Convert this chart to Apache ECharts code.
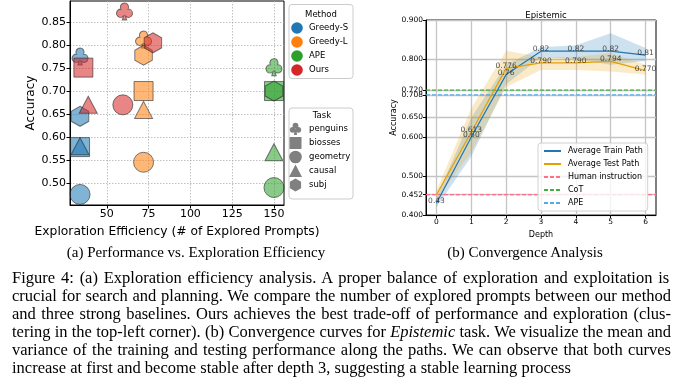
<!DOCTYPE html>
<html><head><meta charset="utf-8">
<script src="https://cdn.jsdelivr.net/npm/echarts@6/dist/echarts.min.js"></script>
<style>
html,body{margin:0;padding:0;background:#fff;}
#wrap{position:relative;width:686px;height:386px;overflow:hidden;background:#fff;}
#chart{position:absolute;left:0;top:0;width:686px;height:386px;}
.cap{position:absolute;font-family:"Liberation Serif","Times New Roman",serif;font-size:15px;color:#000;white-space:nowrap;line-height:18px;height:18px;}
.cap span{display:inline-block;white-space:nowrap;}
.cap.main{font-size:16.5px;}
</style></head><body>
<div id="wrap"><div id="chart"></div><div id="caps"></div></div>
<script>
// ---------- Data: (a) Performance vs. Exploration Efficiency ----------
const methods = ['Greedy-S', 'Greedy-L', 'APE', 'Ours'];
const tasks = ['penguins', 'biosses', 'geometry', 'causal', 'subj'];
const effGreedyS = [34, 34, 34, 34, 34];
const accGreedyS = [0.775, 0.578, 0.475, 0.58, 0.645];
const effGreedyL = [72, 72, 72, 72, 72];
const accGreedyL = [0.812, 0.70, 0.545, 0.659, 0.778];
const effAPE = [150, 150, 150, 150, 150];
const accAPE = [0.752, 0.70, 0.49, 0.567, 0.70];
const effOurs = [60.6, 36, 59.6, 38.9, 77.6];
const accOurs = [0.873, 0.751, 0.67, 0.67, 0.805];
const xTicksA = [50, 75, 100, 125, 150];
const yTicksA = [0.50, 0.55, 0.60, 0.65, 0.70, 0.75, 0.80, 0.85];

// ---------- Data: (b) Convergence Analysis (Epistemic) ----------
const depths = [0, 1, 2, 3, 4, 5, 6];
const trainMean = [0.43, 0.60, 0.76, 0.82, 0.82, 0.82, 0.81];
const trainLow  = [0.42, 0.55, 0.735, 0.805, 0.80, 0.785, 0.795];
const trainHigh = [0.445, 0.65, 0.785, 0.83, 0.835, 0.866, 0.828];
const testMean = [0.452, 0.613, 0.776, 0.790, 0.790, 0.794, 0.770];
const testLow  = [0.44, 0.56, 0.728, 0.772, 0.772, 0.768, 0.76];
const testHigh = [0.462, 0.674, 0.821, 0.805, 0.805, 0.815, 0.785];
const humanAcc = 0.452;
const cotAcc = 0.72;
const apeAcc = 0.708;
const xTicksB = [0, 1, 2, 3, 4, 5, 6];
const yTicksB = [0.400, 0.452, 0.500, 0.600, 0.650, 0.708, 0.720, 0.800, 0.900];

// ---------- Styles ----------
const methodColors = ['#1f77b4', '#ff7f0e', '#2ca02c', '#d62728'];
const FONT = 'DejaVu Sans';
const clubPath = 'path://M30.44,38.05 A22,22 0 1,1 69.56,38.05 A22,22 0 1,1 55.44,75.56 L62,96 L38,96 L44.56,75.56 A22,22 0 1,1 30.44,38.05 Z';
const hexPath = 'path://M50,0 L93.3,25 L93.3,75 L50,100 L6.7,75 L6.7,25 Z';
const taskSymbols = [clubPath, 'rect', 'circle', 'triangle', hexPath];
const taskSizes = [[16, 17], 19, 20, [18, 17], [17.5, 20]];

function rgba(hex, a) {
  const n = parseInt(hex.slice(1), 16);
  return 'rgba(' + (n >> 16) + ',' + ((n >> 8) & 255) + ',' + (n & 255) + ',' + a + ')';
}

const effs = [effGreedyS, effGreedyL, effAPE, effOurs];
const accs = [accGreedyS, accGreedyL, accAPE, accOurs];

const scatterSeries = methods.map((m, mi) => ({
  name: m + ' (efficiency)',
  type: 'scatter',
  xAxisIndex: 0, yAxisIndex: 0,
  data: tasks.map((t, ti) => ({
    value: [effs[mi][ti], accs[mi][ti]],
    symbol: taskSymbols[ti],
    symbolSize: taskSizes[ti]
  })),
  itemStyle: { color: rgba(methodColors[mi], 0.7), borderColor: 'rgba(40,40,40,0.75)', borderWidth: 1 },
  emphasis: { disabled: true },
  z: 3
}));

const xMinB = -0.3, xMaxB = 6.3;

function bandSeries(low, high, fill) {
  return {
    type: 'custom',
    xAxisIndex: 1, yAxisIndex: 1,
    silent: true,
    data: [[depths[0], low[0]]],
    renderItem: function (params, api) {
      const pts = [];
      for (let i = 0; i < depths.length; i++) pts.push(api.coord([depths[i], high[i]]));
      for (let i = depths.length - 1; i >= 0; i--) pts.push(api.coord([depths[i], low[i]]));
      return { type: 'polygon', shape: { points: pts }, style: { fill: fill } };
    },
    z: 1
  };
}

function hLine(name, v, color) {
  return {
    name: name, type: 'line', xAxisIndex: 1, yAxisIndex: 1,
    data: [[xMinB, v], [xMaxB, v]],
    symbol: 'none', silent: true,
    lineStyle: { color: color, width: 1.2, type: [4, 2] },
    itemStyle: { color: color },
    z: 2
  };
}

function labelSeries(vals, digits, skipFirst, off) {
  return {
    type: 'scatter', xAxisIndex: 1, yAxisIndex: 1, silent: true,
    data: depths.map((d, i) => [d, vals[i]]),
    symbolSize: 1,
    itemStyle: { color: 'rgba(0,0,0,0)' },
    label: {
      show: true, position: 'inside', offset: off,
      fontSize: 7.5, fontFamily: FONT, color: '#222',
      formatter: p => (skipFirst && p.dataIndex === 0) ? '' : vals[p.dataIndex].toFixed(digits)
    },
    z: 6
  };
}

// Left legends as graphics
const graphics = [];
graphics.push({ type: 'rect', shape: { x: 289, y: 4.5, width: 64, height: 74, r: 3 }, style: { fill: 'rgba(255,255,255,0.8)', stroke: '#cccccc', lineWidth: 1 }, z: 10 });
graphics.push({ type: 'text', x: 321, y: 15, style: { text: 'Method', fontSize: 8.5, fontFamily: FONT, align: 'center', verticalAlign: 'middle', fill: '#000' }, z: 11 });
methods.forEach((m, i) => {
  const y = 28 + 14 * i;
  graphics.push({ type: 'circle', shape: { cx: 297, cy: y, r: 5.8 }, style: { fill: methodColors[i] }, z: 11 });
  graphics.push({ type: 'text', x: 309, y: y, style: { text: m, fontSize: 8.5, fontFamily: FONT, align: 'left', verticalAlign: 'middle', fill: '#000' }, z: 11 });
});
graphics.push({ type: 'rect', shape: { x: 289, y: 108, width: 64, height: 91, r: 3 }, style: { fill: 'rgba(255,255,255,0.8)', stroke: '#cccccc', lineWidth: 1 }, z: 10 });
graphics.push({ type: 'text', x: 322, y: 116, style: { text: 'Task', fontSize: 8.5, fontFamily: FONT, align: 'center', verticalAlign: 'middle', fill: '#000' }, z: 11 });
const gray = 'rgb(128,128,128)';
tasks.forEach((t, i) => {
  const y = 129 + 14 * i, cx = 295.5;
  if (i === 0) {
    graphics.push({ type: 'circle', shape: { cx: cx, cy: y - 3.3, r: 2.9 }, style: { fill: gray }, z: 11 });
    graphics.push({ type: 'circle', shape: { cx: cx - 2.8, cy: y + 0.8, r: 2.9 }, style: { fill: gray }, z: 11 });
    graphics.push({ type: 'circle', shape: { cx: cx + 2.8, cy: y + 0.8, r: 2.9 }, style: { fill: gray }, z: 11 });
    graphics.push({ type: 'polygon', shape: { points: [[cx - 0.8, y], [cx + 0.8, y], [cx + 1.6, y + 6], [cx - 1.6, y + 6]] }, style: { fill: gray }, z: 11 });
  } else if (i === 1) {
    graphics.push({ type: 'rect', shape: { x: cx - 6, y: y - 6, width: 12, height: 12 }, style: { fill: gray }, z: 11 });
  } else if (i === 2) {
    graphics.push({ type: 'circle', shape: { cx: cx, cy: y, r: 6.3 }, style: { fill: gray }, z: 11 });
  } else if (i === 3) {
    graphics.push({ type: 'polygon', shape: { points: [[cx, y - 6.5], [cx + 6.5, y + 6], [cx - 6.5, y + 6]] }, style: { fill: gray }, z: 11 });
  } else {
    graphics.push({ type: 'polygon', shape: { points: [[cx, y - 6.5], [cx + 5.6, y - 3.25], [cx + 5.6, y + 3.25], [cx, y + 6.5], [cx - 5.6, y + 3.25], [cx - 5.6, y - 3.25]] }, style: { fill: gray }, z: 11 });
  }
  graphics.push({ type: 'text', x: 309, y: y, style: { text: t, fontSize: 8.5, fontFamily: FONT, align: 'left', verticalAlign: 'middle', fill: '#000' }, z: 11 });
});

const chart = echarts.init(document.getElementById('chart'), null, { renderer: 'canvas' });
chart.setOption({
  animation: false,
  backgroundColor: 'transparent',
  textStyle: { fontFamily: FONT },
  title: {
    text: 'Epistemic', left: 541, top: 6, textAlign: 'center',
    textStyle: { fontSize: 8.5, fontWeight: 'normal', fontFamily: FONT, color: '#000' }
  },
  grid: [
    { left: 70, top: 1, width: 214, height: 204, show: true, borderColor: '#000', borderWidth: 1, backgroundColor: 'transparent' },
    { left: 426, top: 20, width: 230, height: 195, show: true, borderColor: '#000', borderWidth: 1, backgroundColor: 'transparent' }
  ],
  xAxis: [
    {
      gridIndex: 0, type: 'value', min: 28, max: 156,
      name: 'Exploration Efficiency (# of Explored Prompts)', nameLocation: 'middle', nameGap: 21,
      nameTextStyle: { fontSize: 12.3, fontFamily: FONT, color: '#000' },
      axisLine: { show: true, onZero: false, lineStyle: { color: '#000', width: 1 } },
      axisTick: { show: true, customValues: xTicksA, length: 3.5, lineStyle: { color: '#000' } },
      axisLabel: { customValues: xTicksA, fontSize: 11, fontFamily: FONT, color: '#000', margin: 4 },
      splitLine: { show: true, lineStyle: { color: '#b0b0b0', width: 0.8, type: [1.5, 1.5] } }
    },
    {
      gridIndex: 1, type: 'value', min: xMinB, max: xMaxB,
      name: 'Depth', nameLocation: 'middle', nameGap: 14,
      nameTextStyle: { fontSize: 8, fontFamily: FONT, color: '#000' },
      axisLine: { show: true, onZero: false, lineStyle: { color: '#000', width: 1 } },
      axisTick: { show: true, customValues: xTicksB, length: 3, lineStyle: { color: '#000' } },
      axisLabel: { customValues: xTicksB, fontSize: 7.5, fontFamily: FONT, color: '#000', margin: 3 },
      splitLine: { show: true, lineStyle: { color: '#c4c4c4', width: 1.3 } }
    }
  ],
  yAxis: [
    {
      gridIndex: 0, type: 'value', min: 0.452, max: 0.896,
      name: 'Accuracy', nameLocation: 'middle', nameGap: 33,
      nameTextStyle: { fontSize: 12, fontFamily: FONT, color: '#000' },
      axisLine: { show: true, onZero: false, lineStyle: { color: '#000', width: 1 } },
      axisTick: { show: true, customValues: yTicksA, length: 3.5, lineStyle: { color: '#000' } },
      axisLabel: { customValues: yTicksA, fontSize: 11, fontFamily: FONT, color: '#000', margin: 4, formatter: v => v.toFixed(2) },
      splitLine: { show: true, lineStyle: { color: '#b0b0b0', width: 0.8, type: [1.5, 1.5] } }
    },
    {
      gridIndex: 1, type: 'value', min: 0.4, max: 0.9,
      name: 'Accuracy', nameLocation: 'middle', nameGap: 28,
      nameTextStyle: { fontSize: 8, fontFamily: FONT, color: '#000' },
      axisLine: { show: true, onZero: false, lineStyle: { color: '#000', width: 1 } },
      axisTick: { show: true, customValues: yTicksB, length: 3, lineStyle: { color: '#000' } },
      axisLabel: { customValues: yTicksB, fontSize: 7.5, fontFamily: FONT, color: '#000', margin: 3, formatter: v => v.toFixed(3) },
      splitLine: { show: true, lineStyle: { color: '#c4c4c4', width: 1.3 } }
    }
  ],
  legend: {
    data: ['Average Train Path', 'Average Test Path', 'Human instruction', 'CoT', 'APE'],
    orient: 'vertical', left: 538, top: 143,
    itemWidth: 17, itemHeight: 8, itemGap: 5,
    padding: [4, 5, 4, 5],
    itemStyle: { opacity: 0 },
    backgroundColor: 'rgba(255,255,255,0.8)', borderColor: '#d0d0d0', borderWidth: 1, borderRadius: 3,
    textStyle: { fontSize: 8, fontFamily: FONT, color: '#000', lineHeight: 8, padding: [0, 0, 0, 2] },
    selectedMode: false
  },
  graphic: graphics,
  series: [
    ...scatterSeries,
    bandSeries(trainLow, trainHigh, 'rgba(31,119,180,0.22)'),
    bandSeries(testLow, testHigh, 'rgba(230,159,0,0.22)'),
    hLine('Human instruction', humanAcc, '#ff6f8a'),
    hLine('CoT', cotAcc, '#44b044'),
    hLine('APE', apeAcc, '#55aaee'),
    {
      name: 'Average Train Path', type: 'line', xAxisIndex: 1, yAxisIndex: 1,
      data: depths.map((d, i) => [d, trainMean[i]]),
      symbol: 'none', lineStyle: { color: '#1f77b4', width: 1.2 }, itemStyle: { color: '#1f77b4' }, z: 4
    },
    {
      name: 'Average Test Path', type: 'line', xAxisIndex: 1, yAxisIndex: 1,
      data: depths.map((d, i) => [d, testMean[i]]),
      symbol: 'none', lineStyle: { color: '#e69f00', width: 1.2 }, itemStyle: { color: '#e69f00' }, z: 4
    },
    labelSeries(trainMean, 2, false, [0, -2]),
    labelSeries(testMean, 3, true, [0, -2])
  ]
});

// ---------- Captions ----------
const subCaptions = [
  { text: '(a) Performance vs. Exploration Efficiency', cx: 196, cy: 252 },
  { text: '(b) Convergence Analysis', cx: 525, cy: 252 }
];
const captionLines = [
  'Figure 4: (a) Exploration efficiency analysis.  A proper balance of exploration and exploitation is',
  'crucial for search and planning. We compare the number of explored prompts between our method',
  'and three strong baselines. Ours achieves the best trade-off of performance and exploration (clus-',
  'tering in the top-left corner). (b) Convergence curves for <i>Epistemic</i> task. We visualize the mean and',
  'variance of the training and testing performance along the paths. We can observe that both curves',
  'increase at first and become stable after depth 3, suggesting a stable learning process'
];
const capLeft = 12, capRight = 671, capTop = 278, capStep = 18;
const caps = document.getElementById('caps');
subCaptions.forEach(s => {
  const d = document.createElement('div');
  d.className = 'cap';
  const sp = document.createElement('span');
  sp.textContent = s.text;
  d.appendChild(sp);
  caps.appendChild(d);
  const w = sp.getBoundingClientRect().width;
  d.style.left = (s.cx - w / 2) + 'px';
  d.style.top = (s.cy - 9) + 'px';
});
captionLines.forEach((line, i) => {
  const d = document.createElement('div');
  d.className = 'cap main';
  d.style.left = capLeft + 'px';
  d.style.top = (capTop + capStep * i - 9) + 'px';
  const sp = document.createElement('span');
  sp.innerHTML = line;
  d.appendChild(sp);
  caps.appendChild(d);
  if (i < captionLines.length - 1) {
    const w = sp.getBoundingClientRect().width;
    const nSpaces = (line.replace(/<[^>]+>/g, '').match(/ /g) || []).length;
    const extra = (capRight - capLeft - w) / nSpaces;
    sp.style.wordSpacing = extra + 'px';
  }
});
</script>
</body></html>
